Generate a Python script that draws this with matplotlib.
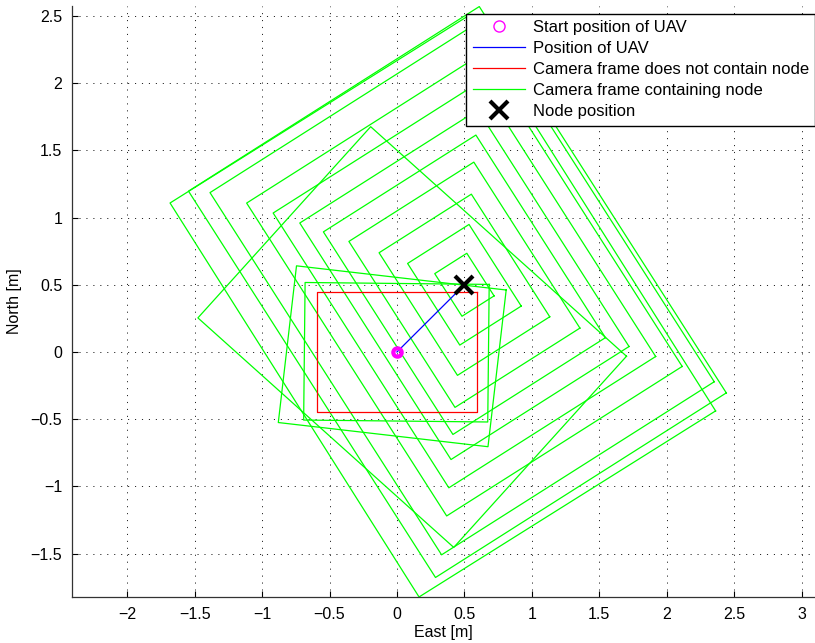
# -*- coding: utf-8 -*-
"""
plot.py -- camera footprints of the UAV while it centres over the node

Red frame: first camera frame (node not inside).
Green frames: later camera frames that contain the node.
"""
import numpy as np
import matplotlib
matplotlib.use("Agg")
import matplotlib.pyplot as plt
from matplotlib.lines import Line2D
from matplotlib.ticker import FuncFormatter, MultipleLocator

plt.rcParams["font.family"] = ["Liberation Sans", "DejaVu Sans"]
plt.rcParams["lines.scale_dashes"] = False

# ---- data (metres, yaw in degrees) ----
start_east, start_north = 0.0, 0.0
node_east, node_north = 0.5, 0.5

# UAV path from the start position to the node
path_east = [0.0, 0.5]
path_north = [0.0, 0.5]

# first frame (does not contain node)
red_east = 0.0
red_north = 0.0
red_yaw = 0.0
red_half_long = 0.595
red_half_short = 0.446

# frames containing the node: centre, yaw, half diagonal
green_east = [0.5, 0.5, 0.5, 0.5, 0.5, 0.5, 0.5, 0.5,
              0.483, 0.448, 0.340, 0.113, -0.035, -0.004]
green_north = [0.5, 0.5, 0.5, 0.5, 0.5, 0.5, 0.5, 0.5,
               0.482, 0.446, 0.335, 0.111, -0.032, -0.002]
green_yaw = [-57.5, -57.5, -57.5, -57.5, -57.5, -57.5, -57.5, -57.5,
             -57.5, -57.5, -57.8, -42.0, -6.6, -0.6]
green_half_diag = [0.235, 0.450, 0.676, 0.915, 1.117, 1.304, 1.515, 1.725,
                   1.997, 2.130, 2.165, 1.595, 0.978, 0.853]

LEGEND_LABELS = [
    "Start position of UAV",
    "Position of UAV",
    "Camera frame does not contain node",
    "Camera frame containing node",
    "Node position",
]


def frame_corners(cx, cy, yaw_deg, half_long, half_short):
    """Closed outline of a rotated camera frame."""
    t = np.deg2rad(yaw_deg)
    u = np.array([np.cos(t), np.sin(t)])
    v = np.array([-np.sin(t), np.cos(t)])
    c = np.array([cx, cy])
    pts = [c + half_long * u + half_short * v,
           c + half_long * u - half_short * v,
           c - half_long * u - half_short * v,
           c - half_long * u + half_short * v]
    pts.append(pts[0])
    pts = np.array(pts)
    return pts[:, 0], pts[:, 1]


def main():
    fig = plt.figure(figsize=(8.15, 6.43), dpi=100)
    ax = fig.add_axes([72 / 815, 46 / 643, 743 / 815, 591 / 643])

    # green frames (4:3 sensor -> half sides 0.8 / 0.6 of half diagonal)
    for cx, cy, yaw, d in zip(green_east, green_north, green_yaw, green_half_diag):
        xs, ys = frame_corners(cx, cy, yaw, 0.8 * d, 0.6 * d)
        ax.plot(xs, ys, color="#00ff00", lw=0.9)

    xs, ys = frame_corners(red_east, red_north, red_yaw, red_half_long, red_half_short)
    ax.plot(xs, ys, color="#ff0000", lw=0.9)

    ax.plot(path_east, path_north, color="#0000ff", lw=0.9)
    ax.plot([start_east], [start_north], "o", color="#ff00ff", ms=6,
            mew=3, mfc="none")
    ax.plot([node_east], [node_north], "x", color="black", ms=13, mew=3)

    ax.set_xlim(-2.409, 3.099)
    ax.set_ylim(-1.823, 2.574)
    ax.xaxis.set_major_locator(MultipleLocator(0.5))
    ax.yaxis.set_major_locator(MultipleLocator(0.5))
    fmt = FuncFormatter(lambda v, _: f"{v:g}".replace("-", "\u2212"))
    ax.xaxis.set_major_formatter(fmt)
    ax.yaxis.set_major_formatter(fmt)
    ax.tick_params(direction="in", length=4, width=0.8, labelsize=11.5, pad=7)
    ax.grid(True, color="black", lw=0.6, linestyle=(0, (0.8, 4.2)))
    for side in ("top", "right"):
        ax.spines[side].set_visible(False)
    for side in ("left", "bottom"):
        ax.spines[side].set_color("#333333")
        ax.spines[side].set_linewidth(0.9)

    ax.set_xlabel("East [m]", fontsize=11.5, labelpad=2)
    ax.set_ylabel("North [m]", fontsize=11.5, labelpad=6)

    handles = [
        Line2D([], [], ls="none", marker="o", color="#ff00ff", mfc="none", ms=8, mew=1),
        Line2D([], [], color="#0000ff", lw=0.9),
        Line2D([], [], color="#ff0000", lw=0.9),
        Line2D([], [], color="#00ff00", lw=0.9),
        Line2D([], [], ls="none", marker="x", color="black", ms=13, mew=3),
    ]
    leg = fig.legend(handles, LEGEND_LABELS, loc="upper right",
                     bbox_to_anchor=(1.0, 1 - 14 / 643),
                     fontsize=12, frameon=True, fancybox=False,
                     framealpha=1, edgecolor="black", borderaxespad=0,
                     borderpad=0.38, labelspacing=0.36, handlelength=3.15,
                     handletextpad=0.45)
    leg.get_frame().set_linewidth(1.0)

    fig.savefig("out.png", dpi=100)
    plt.close(fig)


if __name__ == "__main__":
    main()
